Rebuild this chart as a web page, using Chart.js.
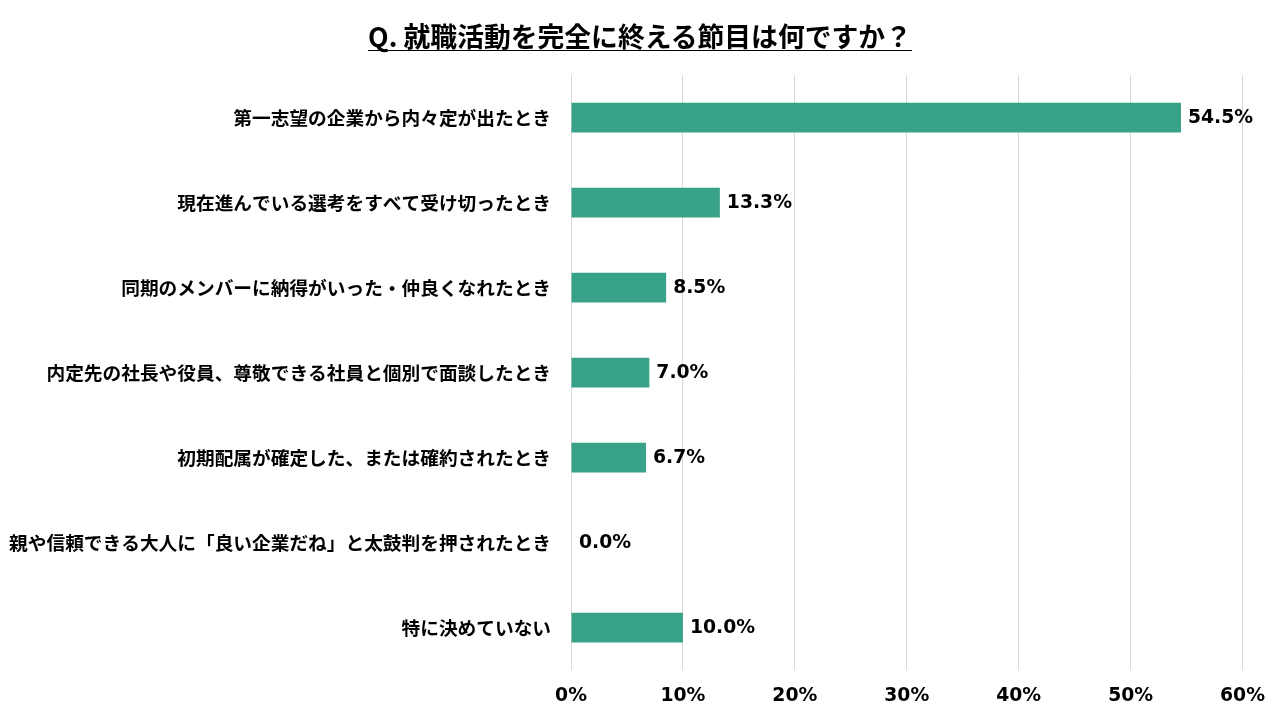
<!DOCTYPE html>
<html lang="ja">
<head>
<meta charset="utf-8">
<script src="https://cdn.jsdelivr.net/npm/chart.js@4"></script>
<style>
  html, body { margin: 0; padding: 0; background: #fff; }
  #wrap { position: relative; width: 1280px; height: 720px; }
  #title {
    position: absolute; left: 0; top: 21px; width: 1280px; text-align: center;
    font-family: "Noto Sans CJK JP", sans-serif; font-weight: bold; font-size: 26.8px;
    color: #000; line-height: 29px;
  }
  #title span { display: inline-block; border-bottom: 1.5px solid #000; }
  canvas { position: absolute; left: 0; top: 0; }
</style>
</head>
<body>
<div id="wrap">
  <canvas id="myBarChart" width="1280" height="720"></canvas>
  <div id="title"><span>Q. 就職活動を完全に終える節目は何ですか？</span></div>
</div>
<script>
// ---------- data ----------
const categories = [
  '第一志望の企業から内々定が出たとき',
  '現在進んでいる選考をすべて受け切ったとき',
  '同期のメンバーに納得がいった・仲良くなれたとき',
  '内定先の社長や役員、尊敬できる社員と個別で面談したとき',
  '初期配属が確定した、または確約されたとき',
  '親や信頼できる大人に「良い企業だね」と太鼓判を押されたとき',
  '特に決めていない',
];
const values = [54.5, 13.3, 8.5, 7.0, 6.7, 0.0, 10.0];
const tickLabels = ['0%', '10%', '20%', '30%', '40%', '50%', '60%'];

const teal = '#38A288';
const numFont = '"DejaVu Sans", sans-serif';

// 막대 끝에 값 표시
const valueLabels = {
  id: 'valueLabels',
  afterDatasetsDraw(chart) {
    const ctx = chart.ctx;
    const meta = chart.getDatasetMeta(0);
    ctx.save();
    ctx.font = 'bold 18.8px ' + numFont;
    ctx.fillStyle = '#000';
    ctx.textBaseline = 'middle';
    ctx.textAlign = 'left';
    meta.data.forEach((bar, i) => {
      const x = values[i] === 0 ? bar.x + 8 : bar.x + 7;
      ctx.fillText(values[i].toFixed(1) + '%', x, bar.y + 1);
    });
    ctx.restore();
  },
};

const config = {
  type: 'bar',
  data: {
    labels: categories,
    datasets: [{
      data: values,
      backgroundColor: teal,
      borderWidth: 0,
      barPercentage: 0.7,
      categoryPercentage: 0.5,
    }],
  },
  options: {
    indexAxis: 'y',
    responsive: false,
    animation: false,
    layout: { padding: { top: 75, right: 37, bottom: 0, left: 0 } },
    plugins: {
      legend: { display: false },
      title: { display: false },
      tooltip: { enabled: false },
    },
    scales: {
      x: {
        min: 0,
        max: 60,
        ticks: {
          stepSize: 10,
          padding: 15,
          color: '#000',
          font: { family: numFont, weight: 'bold', size: 18.8 },
          callback: (v, i) => tickLabels[i],
        },
        grid: { color: '#d9d9d9', drawTicks: false },
        border: { display: false },
        afterFit(scale) { scale.height = 50; },
      },
      y: {
        ticks: {
          padding: 20,
          color: '#000',
          font: { family: '"Noto Sans CJK JP", sans-serif', weight: 'bold', size: 18.7 },
        },
        grid: { display: false, drawTicks: false },
        border: { display: false },
        afterFit(scale) { scale.width = 571; },
      },
    },
  },
  plugins: [valueLabels],
};

new Chart(document.getElementById('myBarChart'), config);
</script>
</body>
</html>
